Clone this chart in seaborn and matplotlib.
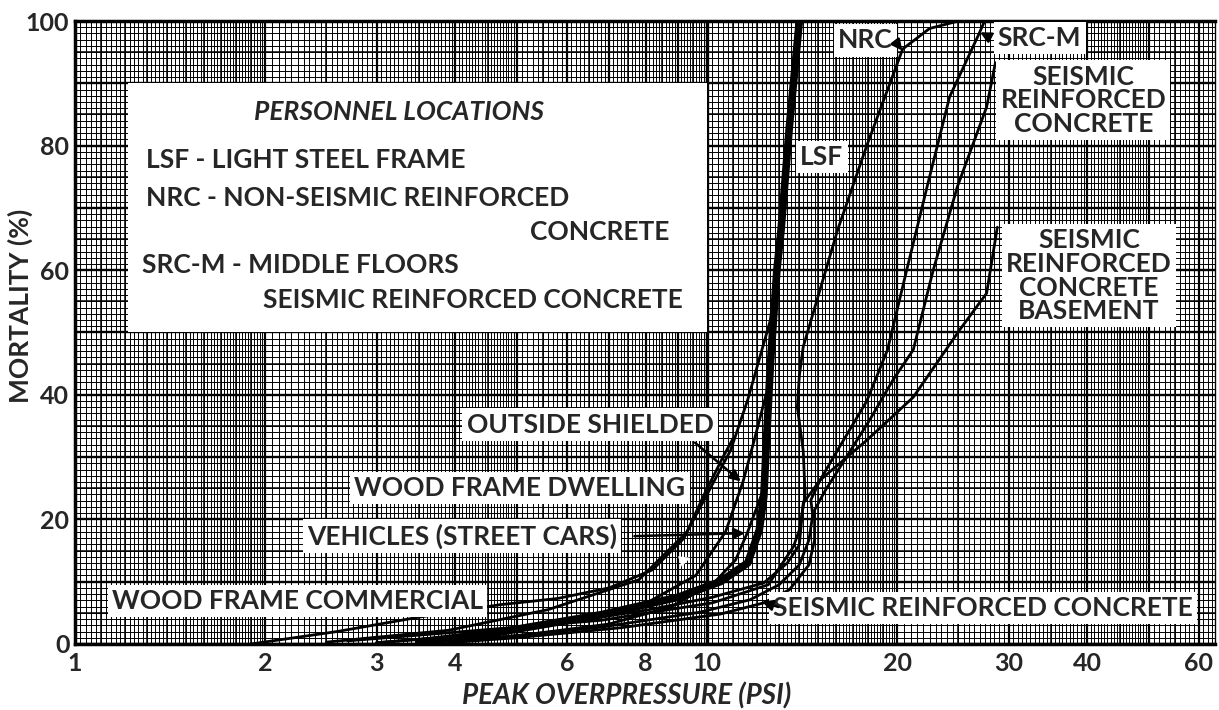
import numpy as np
import pandas as pd
import matplotlib
matplotlib.use("Agg")
import matplotlib.pyplot as plt
from matplotlib.patches import Rectangle
from matplotlib.ticker import NullLocator
import seaborn as sns

# curves: peak overpressure (psi) -> mortality (%)
lsf_psi = [3.5, 4.7, 6.8, 9.0, 10.5, 11.6, 12.1, 12.3, 12.4, 12.6, 12.9, 13.1, 13.5, 14.0]
lsf_mort = [0.3, 1.9, 4.7, 7.5, 10.0, 13.0, 18.3, 23.6, 31.1, 45.0, 60.0, 66.5, 83.0, 100.0]

dwelling_psi = [2.5, 3.9, 5.6, 7.8, 9.3, 10.9, 11.6, 12.6, 12.9]
dwelling_mort = [0.3, 2.2, 5.5, 10.3, 18.0, 31.1, 39.2, 52.0, 60.0]

commercial_psi = [1.9, 2.6, 3.5, 4.7, 5.8, 7.0, 8.2, 9.2, 9.9, 10.6, 11.0]
commercial_mort = [0.0, 2.0, 4.3, 6.3, 7.3, 9.0, 11.9, 17.0, 24.0, 30.0, 33.0]

shielded_psi = [3.0, 4.3, 6.0, 8.0, 9.6, 10.7, 11.4, 11.9, 12.4]
shielded_mort = [0.2, 1.5, 3.5, 6.5, 11.0, 18.0, 26.0, 33.0, 40.0]

vehicles_psi = [3.6, 5.0, 7.0, 8.8, 10.3, 11.1, 11.6, 12.0, 12.3]
vehicles_mort = [0.2, 1.3, 3.2, 6.0, 10.0, 13.5, 18.0, 22.0, 25.0]

nrc_psi = [2.7, 3.9, 6.8, 10.2, 12.5, 13.7, 14.0, 14.3, 14.2, 13.9, 14.0, 14.2, 16.1, 17.9, 20.4, 22.5, 25.0]
nrc_mort = [0.5, 1.8, 3.8, 6.6, 9.5, 15.6, 18.3, 24.0, 31.0, 38.0, 43.0, 47.7, 66.5, 80.0, 95.5, 98.8, 100.0]

srcm_psi = [3.6, 4.7, 6.8, 9.75, 11.7, 13.0, 14.0, 14.5, 14.7, 14.6, 15.1, 16.2, 17.9, 19.3, 20.7, 22.3, 24.2, 26.9, 27.5]
srcm_mort = [0.2, 1.1, 2.7, 5.1, 7.1, 9.5, 12.7, 16.7, 20.7, 23.1, 26.3, 31.6, 39.0, 47.2, 60.0, 73.4, 87.8, 97.8, 100.0]

src_psi = [3.9, 5.0, 7.3, 10.5, 12.3, 13.5, 14.5, 14.8, 14.8, 15.4, 16.5, 18.1, 19.7, 21.2, 22.8, 24.9, 27.7, 28.6]
src_mort = [0.2, 1.0, 2.6, 4.8, 6.6, 8.7, 12.7, 16.7, 21.5, 24.7, 29.5, 36.0, 42.4, 47.2, 60.0, 73.4, 86.2, 93.3]

basement_psi = [3.0, 3.9, 5.6, 8.1, 10.2, 12.3, 13.4, 14.0, 14.2, 15.1, 17.9, 21.2, 25.1, 27.7, 28.8]
basement_mort = [0.2, 1.1, 3.0, 5.5, 7.5, 9.8, 13.0, 15.9, 22.6, 26.3, 32.7, 39.6, 50.4, 56.3, 66.9]

xtick_vals = [1, 2, 3, 4, 6, 8, 10, 20, 30, 40, 60]
ytick_vals = [0, 20, 40, 60, 80, 100]

curve_labels = [
    ("LSF", 15.2, 78.2),
    ("NRC", 17.8, 96.9),
    ("SRC-M", 33.6, 97.3),
    ("SEISMIC\nREINFORCED\nCONCRETE", 39.4, 87.3),
    ("SEISMIC\nREINFORCED\nCONCRETE\nBASEMENT", 40.2, 59.1),
    ("OUTSIDE SHIELDED", 6.53, 35.2),
    ("WOOD FRAME DWELLING", 5.06, 25.0),
    ("VEHICLES (STREET CARS)", 4.10, 17.3),
    ("WOOD FRAME COMMERCIAL", 2.25, 6.9),
    ("SEISMIC REINFORCED CONCRETE", 27.3, 5.8),
]

thin = pd.concat([
    pd.DataFrame({"psi": p, "mortality": m, "curve": name})
    for name, p, m in [
        ("dwelling", dwelling_psi, dwelling_mort),
        ("commercial", commercial_psi, commercial_mort),
        ("shielded", shielded_psi, shielded_mort),
        ("vehicles", vehicles_psi, vehicles_mort),
        ("nrc", nrc_psi, nrc_mort),
        ("srcm", srcm_psi, srcm_mort),
        ("src", src_psi, src_mort),
        ("basement", basement_psi, basement_mort),
    ]
], ignore_index=True)
lsf = pd.DataFrame({"psi": lsf_psi, "mortality": lsf_mort})

sns.set_theme(style="white")
plt.rcParams["font.family"] = ["Lato", "DejaVu Sans"]

fig = plt.figure(figsize=(12.19, 7.10), dpi=100)
ax = fig.add_axes([0.0615, 0.093, 0.9352, 0.8774])
ax.set_xscale("log")
xmax = 10 ** (1140 / 632)
ax.set_xlim(1, xmax)
ax.set_ylim(0, 100)

# graph-paper grid
fine_x = np.concatenate([np.arange(1, 2, 0.02), np.arange(2, 5, 0.05), np.arange(5, 10, 0.1),
                         np.arange(10, 20, 0.2), np.arange(20, 50, 0.5), np.arange(50, 64, 1.0)])
mid_x = np.concatenate([np.arange(1, 2, 0.1), np.arange(2, 10, 0.5), np.arange(10, 20, 1), np.arange(20, 64, 5)])
major_x = np.concatenate([np.arange(1, 10, 1), np.arange(10, 70, 10)])
ax.vlines(fine_x, 0, 100, color="black", lw=0.7, zorder=1)
ax.vlines(mid_x, 0, 100, color="black", lw=1.1, zorder=1)
ax.vlines(major_x, 0, 100, color="black", lw=1.6, zorder=1)
ax.vlines([10], 0, 100, color="black", lw=2.4, zorder=1)
ax.hlines(np.arange(0, 101, 1), 1, xmax, color="black", lw=0.7, zorder=1)
ax.hlines(np.arange(0, 101, 5), 1, xmax, color="black", lw=1.1, zorder=1)
ax.hlines(np.arange(0, 101, 10), 1, xmax, color="black", lw=1.7, zorder=1)

# legend panel
ax.add_patch(Rectangle((1.213, 50), 10 - 1.213, 40, facecolor="white", edgecolor="none", zorder=2))

sns.lineplot(data=thin, x="psi", y="mortality", units="curve", estimator=None, sort=False,
             color="black", lw=2.0, ax=ax, legend=False, zorder=3)
sns.lineplot(data=lsf, x="psi", y="mortality", estimator=None, sort=False,
             color="black", lw=5.5, ax=ax, legend=False, zorder=3)

box = dict(facecolor="white", edgecolor="none", pad=3)
for txt, xv, yv in curve_labels:
    ax.text(xv, yv, txt, ha="center", va="center", fontsize=19, fontweight="bold",
            linespacing=0.98, bbox=box, zorder=5)

kw = dict(fontsize=19, fontweight="bold", va="center", zorder=5)
ax.text(3.26, 85.4, "PERSONNEL LOCATIONS", ha="center", style="italic", **kw)
ax.text(1.295, 77.7, "LSF - LIGHT STEEL FRAME", ha="left", **kw)
ax.text(1.295, 71.6, "NRC - NON-SEISMIC REINFORCED", ha="left", **kw)
ax.text(8.71, 66.1, "CONCRETE", ha="right", **kw)
ax.text(1.276, 60.8, "SRC-M - MIDDLE FLOORS", ha="left", **kw)
ax.text(9.15, 55.2, "SEISMIC REINFORCED CONCRETE", ha="right", **kw)

arrow = dict(arrowstyle="-|>", color="black", lw=1.8, mutation_scale=16)
ax.annotate("", xy=(11.4, 25.8), xytext=(9.5, 32.6), arrowprops=arrow, zorder=6)
ax.annotate("", xy=(11.6, 17.8), xytext=(7.6, 17.3), arrowprops=arrow, zorder=6)
ax.annotate("", xy=(20.5, 94.9), xytext=(19.9, 96.6), arrowprops=arrow, zorder=6)
ax.annotate("", xy=(26.8, 98.4), xytext=(28.0, 97.4), arrowprops=arrow, zorder=6)
ax.annotate("", xy=(12.1, 6.9), xytext=(13.1, 5.8), arrowprops=arrow, zorder=6)
ax.annotate("", xy=(9.5, 14.0), xytext=(8.6, 12.4),
            arrowprops=dict(arrowstyle="-|>", color="white", lw=0, mutation_scale=20), zorder=6)

ax.xaxis.set_minor_locator(NullLocator())
ax.set_xticks(xtick_vals)
ax.set_xticklabels([str(v) for v in xtick_vals])
ax.set_yticks(ytick_vals)
ax.tick_params(axis="both", length=0, labelsize=18)
ax.tick_params(axis="x", pad=6)
ax.tick_params(axis="y", pad=4)
for lab in ax.get_xticklabels() + ax.get_yticklabels():
    lab.set_fontweight("bold")

ax.set_xlabel("PEAK OVERPRESSURE (PSI)", fontsize=20, fontweight="bold", style="italic")
ax.set_ylabel("MORTALITY (%)", fontsize=19, fontweight="bold")
ax.xaxis.set_label_coords(0.484, -0.062)
ax.yaxis.set_label_coords(-0.037, 0.543)

for side in ["left", "bottom", "top"]:
    ax.spines[side].set_linewidth(2.5)
    ax.spines[side].set_color("black")
ax.spines["right"].set_linewidth(1.0)
ax.spines["right"].set_color("black")

fig.savefig("out.png", dpi=100)
